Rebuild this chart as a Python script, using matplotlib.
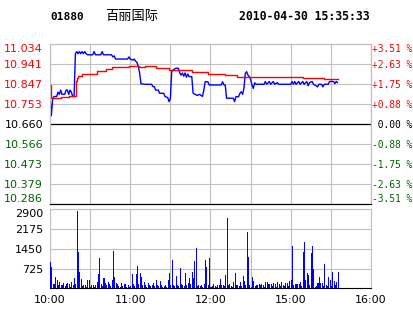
import numpy as np
import matplotlib.pyplot as plt

code = "01880"
name = "百丽国际"
stamp = "2010-04-30 15:35:33"

prev_close = 10.660
price_ticks = [10.286, 10.379, 10.473, 10.566, 10.660, 10.753, 10.847, 10.941, 11.034]
pct_labels = ["-3.51 %", "-2.63 %", "-1.75 %", "-0.88 %", " 0.00 %",
              "+0.88 %", "+1.75 %", "+2.63 %", "+3.51 %"]
time_ticks = [0, 30, 60, 90, 120, 150, 180, 210, 240]
time_labels = ["10:00", "", "11:00", "", "12:00", "", "15:00", "", "16:00"]
vol_ticks = [725, 1450, 2175, 2900]

# price line (minutes from 10:00, lunch removed)
price_t = [0, 1, 2, 3, 5, 6, 7, 8, 9, 11, 12, 13, 14, 15, 16, 17, 18, 19,
           20, 21, 22, 23, 24, 25, 26, 27, 28, 32, 33, 34, 38, 39, 40, 46, 47, 48, 49,
           58, 59, 60, 62, 63, 64, 65, 66, 67, 68, 71, 76, 77, 78, 79, 81, 82, 85, 86,
           88, 89, 90, 91, 92, 94, 96, 97, 98, 99, 100, 101, 102, 103, 104, 106, 107,
           110, 112, 114, 115, 116, 118, 119, 128, 129, 130, 131, 132, 137, 138, 139,
           141, 142, 143, 144, 145, 146, 147, 148, 149, 150, 151, 152, 153, 154,
           160, 161, 162, 164, 165, 167, 168, 170, 171, 180, 181, 182, 183, 184, 186,
           187, 189, 190, 192, 193, 194, 196, 197, 199, 200, 201, 203, 204, 205, 208,
           209, 212, 213, 214, 215]
price_p = [10.79, 10.70, 10.78, 10.79, 10.79, 10.81, 10.80, 10.82, 10.80, 10.80,
           10.82, 10.82, 10.80, 10.82, 10.81, 10.79, 10.79, 10.99,
           11.00, 10.99, 11.00, 10.99, 11.00, 10.99, 11.00, 10.99, 10.985, 10.985,
           11.00, 10.985, 10.985, 11.00, 10.985, 10.985, 10.975, 10.98, 10.965,
           10.965, 10.975, 10.965, 10.96, 10.965, 10.955, 10.95, 10.93, 10.90, 10.85,
           10.847, 10.847, 10.836, 10.836, 10.82, 10.82, 10.805, 10.805, 10.79,
           10.785, 10.766, 10.78, 10.906, 10.914, 10.922, 10.922, 10.90, 10.89,
           10.90, 10.885, 10.90, 10.88, 10.895, 10.883, 10.883, 10.805,
           10.795, 10.80, 10.79, 10.82, 10.859, 10.859, 10.844, 10.844, 10.859, 10.844,
           10.844, 10.782, 10.782, 10.766, 10.789,
           10.789, 10.805, 10.812, 10.80, 10.828, 10.898, 10.906, 10.89, 10.883, 10.87,
           10.844, 10.828, 10.854, 10.847,
           10.847, 10.86, 10.847, 10.86, 10.847, 10.86, 10.847, 10.855, 10.847,
           10.847, 10.86, 10.847, 10.86, 10.847, 10.86, 10.847, 10.86, 10.847, 10.86,
           10.84, 10.855, 10.86, 10.847, 10.84, 10.835, 10.847, 10.847, 10.835,
           10.847, 10.847, 10.86, 10.86, 10.85, 10.86, 10.855]

# average price line
avg_t = [0, 0.5, 1, 8, 14, 19, 19.5, 20, 21, 24, 35.5, 41.5, 46.5, 59, 66.5, 71,
         79, 89, 106, 118, 131, 140, 143, 189, 205, 215]
avg_p = [10.845, 10.786, 10.781, 10.788, 10.793, 10.793, 10.862, 10.877, 10.887,
         10.895, 10.908, 10.919, 10.927, 10.932, 10.927, 10.932,
         10.925, 10.914, 10.903, 10.895, 10.890, 10.883, 10.880, 10.875, 10.870, 10.870]

# volume per minute
volume = [979, 795, 150, 150, 428, 306, 120, 245, 122, 122,
          183, 90, 150, 183, 150, 60, 245, 120, 390, 150,
          2850, 1346, 612, 343, 90, 122, 122, 60, 306, 306,
          60, 122, 122, 60, 122, 245, 526, 1126, 150, 90,
          390, 183, 122, 245, 150, 90, 306, 1383, 428, 210,
          150, 90, 60, 210, 90, 150, 150, 60, 122, 60,
          90, 526, 150, 90, 526, 820, 150, 563, 428, 122,
          220, 122, 60, 183, 122, 90, 122, 210, 90, 306,
          122, 90, 270, 122, 60, 90, 122, 60, 306, 563,
          122, 1040, 122, 90, 465, 122, 90, 746, 150, 122,
          90, 563, 122, 183, 390, 150, 600, 390, 1003, 1480,
          90, 122, 90, 122, 60, 150, 1040, 795, 122, 1126,
          60, 100, 150, 90, 60, 122, 122, 343, 122, 122,
          90, 490, 2594, 122, 150, 90, 60, 220, 550, 122,
          122, 90, 220, 90, 453, 270, 122, 2080, 1150, 122,
          60, 416, 270, 90, 122, 122, 150, 122, 150, 122,
          60, 220, 220, 150, 150, 150, 90, 183, 150, 60,
          220, 170, 90, 220, 122, 90, 200, 200, 90, 270,
          306, 1554, 122, 150, 150, 150, 160, 220, 90, 1322,
          1689, 306, 550, 490, 122, 1285, 1542, 710, 60, 90,
          183, 416, 183, 183, 90, 881, 122, 90, 416, 306,
          90, 587, 270, 122, 220, 587]

red = '#FF0000'
green = '#006400'
grid_c = '#C0C0C0'

fig = plt.figure(figsize=(4.14, 3.14), dpi=100)
ax = fig.add_axes([50/414, 1-204.3/314, 321/414, 160/314])
axv = fig.add_axes([50/414, 1-288.3/314, 321/414, 79/314])

# price panel
ax.plot(price_t, price_p, color='#0000FF', lw=1.0, zorder=3)
ax.plot(avg_t, avg_p, color=red, lw=1.0, drawstyle='steps-post', zorder=3)
ax.axhline(prev_close, color='black', lw=0.9, zorder=2)
ax.set_xlim(0, 240)
ax.set_ylim(price_ticks[0], price_ticks[-1])
ax.set_xticks(time_ticks)
ax.set_xticklabels([])
ax.set_yticks(price_ticks)
ax.set_yticklabels(["%.3f" % p for p in price_ticks], fontsize=8)
ax.grid(color=grid_c, lw=0.8, zorder=0)
ax.tick_params(length=0, pad=5)
for lab, p in zip(ax.get_yticklabels(), price_ticks):
    if p > prev_close + 0.001:
        lab.set_color(red)
    elif p < prev_close - 0.001:
        lab.set_color(green)
    else:
        lab.set_color('black')

ax2 = ax.twinx()
ax2.set_ylim(price_ticks[0], price_ticks[-1])
ax2.set_yticks(price_ticks)
ax2.set_yticklabels(pct_labels, fontsize=6.9, family='DejaVu Sans Mono')
ax2.tick_params(length=0, pad=0.5)
for lab, s in zip(ax2.get_yticklabels(), pct_labels):
    if s.startswith('+'):
        lab.set_color(red)
    elif s.startswith('-'):
        lab.set_color(green)
    else:
        lab.set_color('black')

# end labels sit inside the frame, like the original
for a in (ax, ax2):
    labs = a.get_yticklabels()
    labs[0].set_verticalalignment('bottom')
    labs[-1].set_verticalalignment('top')

for a in (ax, ax2):
    for side in ('top', 'left', 'right'):
        a.spines[side].set_color(grid_c)
    a.spines['bottom'].set_color('black')

# volume panel
axv.bar(np.arange(len(volume)), volume, width=0.75, color='#0000FF', align='edge', zorder=3)
axv.set_xlim(0, 240)
axv.set_ylim(0, 2900)
axv.set_yticks(vol_ticks)
axv.set_yticklabels([str(v) for v in vol_ticks], fontsize=8)
axv.get_yticklabels()[-1].set_verticalalignment('top')
axv.set_xticks(time_ticks)
axv.set_xticklabels(time_labels, fontsize=8)
axv.grid(color=grid_c, lw=0.8, zorder=0)
axv.tick_params(length=0, pad=5)
for side in ('top', 'left', 'right'):
    axv.spines[side].set_color(grid_c)
axv.spines['bottom'].set_color('black')

fig.text(50/414, 1-16.7/314, code, fontsize=8, fontweight='bold',
         family='DejaVu Sans Mono', va='center', ha='left')
fig.text(105/414, 1-16.7/314, name, fontsize=9.5,
         family=['Noto Sans CJK SC', 'DejaVu Sans'], va='center', ha='left')
fig.text(370/414, 1-16.7/314, stamp, fontsize=8.3, fontweight='bold',
         family='DejaVu Sans Mono', va='center', ha='right')

fig.savefig('out.png', dpi=100)
plt.close()
